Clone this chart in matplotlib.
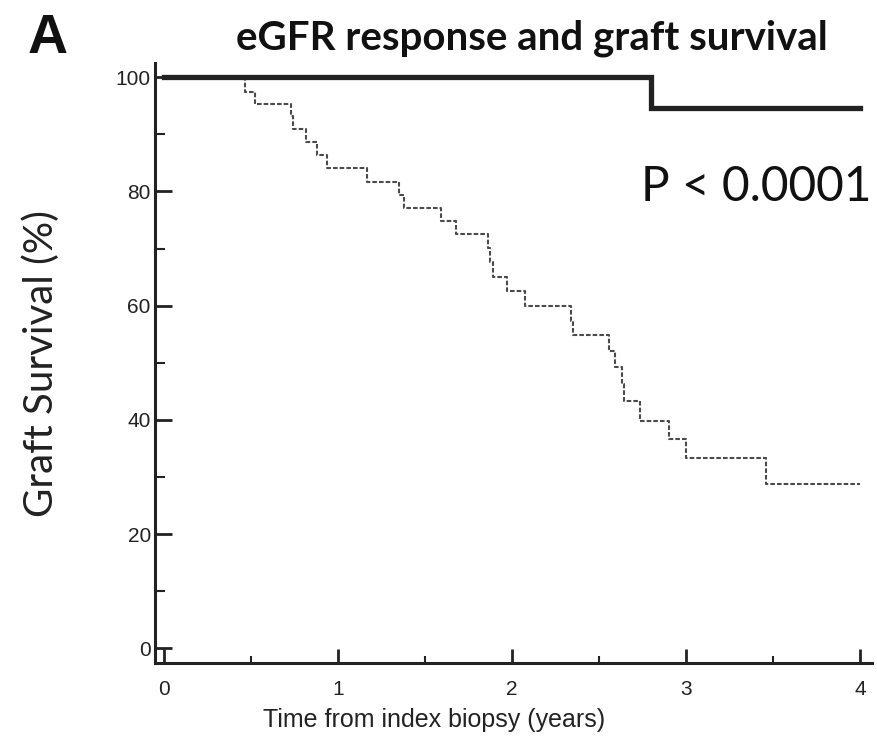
import matplotlib
matplotlib.use("Agg")
import matplotlib.pyplot as plt
from matplotlib.ticker import MultipleLocator

# Data
resp_times = [0.0, 2.80, 4.0]
resp_surv = [100.0, 94.7, 94.7]

nonresp_times = [0.0, 0.465, 0.525, 0.73, 0.745, 0.815, 0.88, 0.94, 1.17, 1.35, 1.378,
                 1.59, 1.68, 1.865, 1.875, 1.89, 1.97, 2.075, 2.34, 2.352, 2.555, 2.59,
                 2.635, 2.645, 2.735, 2.90, 3.0, 3.46, 4.0]
nonresp_surv = [100.0, 97.4, 95.4, 93.2, 91.0, 88.7, 86.4, 84.1, 81.7, 79.4, 77.1,
                74.9, 72.5, 70.1, 67.6, 65.0, 62.5, 59.9, 57.4, 54.8, 52.1, 49.2,
                46.3, 43.3, 39.8, 36.6, 33.3, 28.7, 28.7]

x_ticks = [0, 1, 2, 3, 4]
y_ticks = [0, 20, 40, 60, 80, 100]

title = "eGFR response and graft survival"
panel = "A"
p_text = "P < 0.0001"
xlabel = "Time from index biopsy (years)"
ylabel = "Graft Survival (%)"

fig = plt.figure(figsize=(8.77, 7.41), dpi=100)
ax = fig.add_axes([0.1767, 0.105, 0.818, 0.81])

ax.step(nonresp_times, nonresp_surv, where="post", color="#4a4a4a", lw=1.5,
        dashes=(2.2, 1.0), zorder=2)
ax.step(resp_times, resp_surv, where="post", color="#222222", lw=3.8, zorder=3,
        solid_joinstyle="miter")

ax.set_xlim(-0.05, 4.07)
ax.set_ylim(-2.6, 102.5)

for s in ["top", "right"]:
    ax.spines[s].set_visible(False)
for s in ["left", "bottom"]:
    ax.spines[s].set_linewidth(2.2)
    ax.spines[s].set_color("#222222")

ax.set_xticks(x_ticks)
ax.set_yticks(y_ticks)
ax.xaxis.set_minor_locator(MultipleLocator(0.5))
ax.yaxis.set_minor_locator(MultipleLocator(10))
ax.tick_params(axis="both", which="major", direction="in", width=2, color="#222222",
               labelsize=15, labelcolor="#222222")
ax.tick_params(axis="x", which="major", length=10, pad=12)
ax.tick_params(axis="y", which="major", length=12, pad=3)
ax.tick_params(axis="x", which="minor", direction="in", length=5, width=1.5, color="#222222")
ax.tick_params(axis="y", which="minor", direction="in", length=7, width=1.5, color="#222222")
for lab in ax.get_xticklabels() + ax.get_yticklabels():
    lab.set_family("Liberation Sans")

ax.set_ylabel(ylabel, fontsize=29, family="Lato", color="#222222", labelpad=40)
fig.text(0.495, 0.028, xlabel, fontsize=18, family="Liberation Sans", color="#222222",
         ha="center", va="center")

fig.text(0.606, 0.949, title, fontsize=29, family="Lato", fontweight="bold",
         ha="center", va="center", color="#111111")
fig.text(0.031, 0.948, panel, fontsize=40, family="Liberation Sans", fontweight="bold",
         ha="left", va="center", color="#111111")
ax.text(4.065, 80.8, p_text, fontsize=34.5, family="Lato", ha="right", va="center",
        color="#111111")

fig.savefig("out.png", dpi=100)
